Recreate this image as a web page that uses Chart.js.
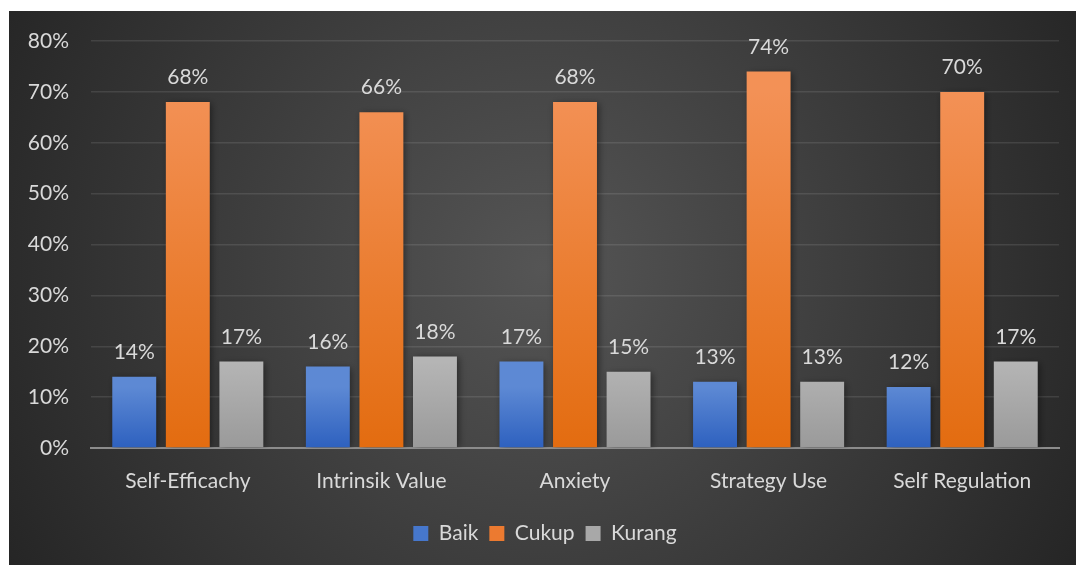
<!DOCTYPE html>
<html>
<head>
<meta charset="utf-8">
<script src="https://cdn.jsdelivr.net/npm/chart.js@4"></script>
<style>
  html, body { margin: 0; padding: 0; background: #fff; }
  #wrap { position: absolute; left: 9px; top: 11px; width: 1067px; height: 554px; }
</style>
</head>
<body>
<div id="wrap"><canvas id="chart" width="1067" height="554"></canvas></div>
<script>
// ─── Data ──────────────────────────────────────────────────────
const CATEGORIES = ['Self-Efficachy', 'Intrinsik Value', 'Anxiety', 'Strategy Use', 'Self Regulation'];
const BAIK = [14, 16, 17, 13, 12];
const CUKUP = [68, 66, 68, 74, 70];
const KURANG = [17, 18, 15, 13, 17];
const Y_TICKS = [0, 10, 20, 30, 40, 50, 60, 70, 80];

const TEXT = '#d9d9d9';
const FONT = 'Lato, "Open Sans", sans-serif';
const FS = 21;

// bar gradients, top colour → bottom colour
const GRADS = [
  ['#5d89d4', '#2e61bf'],
  ['#f39156', '#e36c10'],
  ['#b5b5b5', '#9a9a9a'],
];

// ─── Plugins ───────────────────────────────────────────────────
const backdrop = {
  id: 'backdrop',
  beforeDraw(chart) {
    const { ctx, width, height } = chart;
    const g = ctx.createRadialGradient(width / 2, height / 2 - 20, 0, width / 2, height / 2 - 20, 640);
    g.addColorStop(0, '#555555');
    g.addColorStop(1, '#232323');
    ctx.save();
    ctx.fillStyle = g;
    ctx.fillRect(0, 0, width, height);
    ctx.restore();
  },
};

// legend sits a little right of centre in the original
const legendShift = {
  id: 'legendShift',
  afterLayout(chart) {
    chart.legend.left += 11;
    chart.legend.right += 11;
  },
};

const barStyle = {
  id: 'barStyle',
  beforeDatasetsDraw(chart) {
    const { ctx } = chart;
    chart.data.datasets.forEach((ds, i) => {
      const meta = chart.getDatasetMeta(i);
      meta.data.forEach(bar => {
        const g = ctx.createLinearGradient(0, bar.y, 0, bar.base);
        g.addColorStop(0, GRADS[i][0]);
        g.addColorStop(1, GRADS[i][1]);
        bar.options.backgroundColor = g;
      });
    });
  },
  beforeDatasetDraw(chart) {
    const { ctx } = chart;
    ctx.save();
    ctx.shadowColor = 'rgba(0,0,0,0.45)';
    ctx.shadowBlur = 7;
    ctx.shadowOffsetX = 2;
    ctx.shadowOffsetY = 1;
  },
  afterDatasetDraw(chart) {
    chart.ctx.restore();
  },
};

const valueLabels = {
  id: 'valueLabels',
  afterDatasetsDraw(chart) {
    const { ctx } = chart;
    ctx.save();
    ctx.fillStyle = TEXT;
    ctx.font = FS + 'px ' + FONT;
    ctx.textAlign = 'center';
    ctx.textBaseline = 'bottom';
    chart.data.datasets.forEach((ds, i) => {
      chart.getDatasetMeta(i).data.forEach((bar, j) => {
        ctx.fillText(ds.data[j] + '%', bar.x, bar.y - 14);
      });
    });
    ctx.restore();
  },
};

// ─── Chart ─────────────────────────────────────────────────────
new Chart(document.getElementById('chart'), {
  type: 'bar',
  data: {
    labels: CATEGORIES,
    datasets: [
      { label: 'Baik', data: BAIK, backgroundColor: '#4677cc' },
      { label: 'Cukup', data: CUKUP, backgroundColor: '#ec7a30' },
      { label: 'Kurang', data: KURANG, backgroundColor: '#a8a8a8' },
    ],
  },
  options: {
    responsive: false,
    animation: false,
    categoryPercentage: 0.83,
    barPercentage: 0.82,
    layout: { padding: { top: 30, right: 17, bottom: 11, left: 0 } },
    plugins: {
      legend: {
        position: 'bottom',
        labels: {
          color: TEXT,
          font: { family: FONT, size: FS },
          boxWidth: 15,
          boxHeight: 15,
          padding: 11,
        },
      },
      tooltip: { enabled: false },
    },
    scales: {
      x: {
        grid: { display: false, drawTicks: false },
        border: { display: true, color: '#8c8c8c', width: 2 },
        ticks: { color: TEXT, font: { family: FONT, size: FS }, padding: 21 },
        afterFit: s => { s.height = 64; },
      },
      y: {
        min: 0,
        max: 80,
        afterBuildTicks: s => { s.ticks = Y_TICKS.map(v => ({ value: v })); },
        grid: { color: 'rgba(255,255,255,0.1)', lineWidth: 1.5, drawTicks: false },
        border: { display: false },
        ticks: {
          color: TEXT,
          font: { family: FONT, size: FS },
          padding: 22,
          callback: v => v + '%',
        },
        afterFit: s => {
          s.width = 82;
          s.paddingTop = 0;
          s.paddingBottom = 0;
        },
      },
    },
  },
  plugins: [backdrop, legendShift, barStyle, valueLabels],
});
</script>
</body>
</html>
